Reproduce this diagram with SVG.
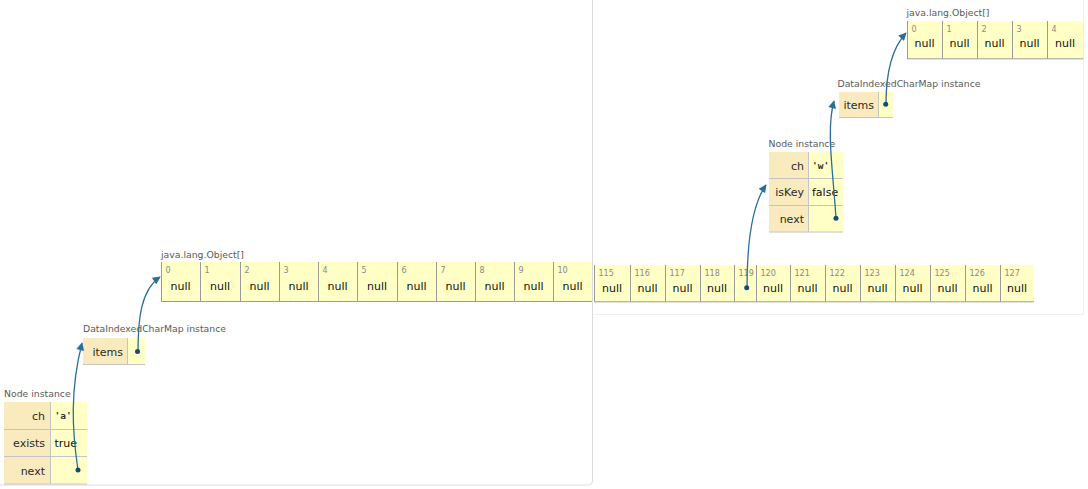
<svg xmlns="http://www.w3.org/2000/svg" width="1088" height="489" viewBox="0 0 1088 489">
<style>
text{font-family:"DejaVu Sans",Verdana,sans-serif}
.lbl{font-size:9.3px;fill:#5a5a5a}
.idx{font-size:8px;fill:#8a8a8a}
.nul{font-size:11px;fill:#111;text-anchor:middle}
.key{font-size:11px;fill:#2a2a2a;text-anchor:end}
.val{font-size:11px;fill:#111}
.chr{font-family:"DejaVu Sans Mono","Liberation Mono",monospace;font-size:9.5px;font-weight:bold;fill:#333}
.cell{fill:#ffffc6}
.kcell{fill:#faebbf}
.cb{stroke:#9a9a9a;stroke-width:1;fill:none}
.tb{stroke:#c4c4c4;stroke-width:1;fill:none}
.ptr{stroke:#2a6f99;stroke-width:1.3;fill:none;marker-end:url(#ah)}
.dot{fill:#0f4d72}
.panel{fill:none;stroke:#dcdcdc;stroke-width:1}
.panel2{fill:none;stroke:#eeeeee;stroke-width:1}
</style>
<defs>
<marker id="ah" viewBox="0 0 10 10" refX="9" refY="5" markerWidth="9" markerHeight="8" markerUnits="userSpaceOnUse" orient="auto">
<path d="M0,0 L10,5 L0,10 z" fill="#2a6f99"/>
</marker>
</defs>
<rect width="1088" height="489" fill="#ffffff"/>
<g id="panels">
<path class="panel" d="M592.5,0 V481 Q592.5,485 588.5,485 H0"/>
<path class="panel2" d="M593.5,314.5 H1083.5 V0"/>
</g>

<g id="arr-left">
<text class="lbl" x="161" y="258">java.lang.Object[]</text>
<rect class="cell" x="161" y="262" width="431" height="39"/>
<path class="cb" d="M161.5,262 V301 M200.5,262 V301 M240.5,262 V301 M279.5,262 V301 M318.5,262 V301 M357.5,262 V301 M397.5,262 V301 M436.5,262 V301 M475.5,262 V301 M514.5,262 V301 M553.5,262 V301 M161,301.5 H592"/>
<text class="idx" x="165.5" y="273">0</text>
<text class="idx" x="204.5" y="273">1</text>
<text class="idx" x="244.5" y="273">2</text>
<text class="idx" x="283.5" y="273">3</text>
<text class="idx" x="322.5" y="273">4</text>
<text class="idx" x="361.5" y="273">5</text>
<text class="idx" x="401.5" y="273">6</text>
<text class="idx" x="440.5" y="273">7</text>
<text class="idx" x="479.5" y="273">8</text>
<text class="idx" x="518.5" y="273">9</text>
<text class="idx" x="557.5" y="273">10</text>
<text class="nul" x="180.5" y="290">null</text>
<text class="nul" x="220" y="290">null</text>
<text class="nul" x="259.5" y="290">null</text>
<text class="nul" x="298.5" y="290">null</text>
<text class="nul" x="337.5" y="290">null</text>
<text class="nul" x="377" y="290">null</text>
<text class="nul" x="416.5" y="290">null</text>
<text class="nul" x="455.5" y="290">null</text>
<text class="nul" x="494.5" y="290">null</text>
<text class="nul" x="533.5" y="290">null</text>
<text class="nul" x="572.5" y="290">null</text>
</g>

<g id="dicm-left">
<text class="lbl" x="83" y="332">DataIndexedCharMap instance</text>
<rect class="kcell" x="83" y="338" width="44" height="26"/>
<rect class="cell" x="127" y="338" width="18" height="26"/>
<path class="tb" d="M127.5,338 V364 M83,364.5 H145"/>
<text class="key" x="123" y="355.5">items</text>
</g>

<g id="node-a">
<text class="lbl" x="4" y="396.5">Node instance</text>
<rect class="kcell" x="4" y="402" width="46" height="82"/>
<rect class="cell" x="50" y="402" width="37" height="82"/>
<path class="tb" d="M50.5,402 V484 M4,429.5 H87 M4,456.5 H87 M4,484 H87"/>
<text class="key" x="45" y="419.5">ch</text>
<text class="key" x="45" y="447">exists</text>
<text class="key" x="45" y="474.5">next</text>
<text class="chr" x="54.5" y="419">'a'</text>
<text class="val" x="54.5" y="447">true</text>
</g>

<g id="arr-right">
<rect class="cell" x="594" y="265" width="440" height="36.5"/>
<path class="cb" d="M594.5,265 V301.5 M630.5,265 V301.5 M665.5,265 V301.5 M700.5,265 V301.5 M734.5,265 V301.5 M756.5,265 V301.5 M790.5,265 V301.5 M825.5,265 V301.5 M860.5,265 V301.5 M895.5,265 V301.5 M930.5,265 V301.5 M965.5,265 V301.5 M1000.5,265 V301.5 M594,301.8 H1034"/>
<text class="idx" x="598.5" y="276">115</text>
<text class="idx" x="634.5" y="276">116</text>
<text class="idx" x="669.5" y="276">117</text>
<text class="idx" x="704.5" y="276">118</text>
<text class="idx" x="738.5" y="276">119</text>
<text class="idx" x="760.5" y="276">120</text>
<text class="idx" x="794.5" y="276">121</text>
<text class="idx" x="829.5" y="276">122</text>
<text class="idx" x="864.5" y="276">123</text>
<text class="idx" x="899.5" y="276">124</text>
<text class="idx" x="934.5" y="276">125</text>
<text class="idx" x="969.5" y="276">126</text>
<text class="idx" x="1004.5" y="276">127</text>
<text class="nul" x="612" y="292">null</text>
<text class="nul" x="647.5" y="292">null</text>
<text class="nul" x="682.5" y="292">null</text>
<text class="nul" x="717" y="292">null</text>
<text class="nul" x="773" y="292">null</text>
<text class="nul" x="807.5" y="292">null</text>
<text class="nul" x="842.5" y="292">null</text>
<text class="nul" x="877.5" y="292">null</text>
<text class="nul" x="912.5" y="292">null</text>
<text class="nul" x="947.5" y="292">null</text>
<text class="nul" x="982.5" y="292">null</text>
<text class="nul" x="1017" y="292">null</text>
</g>

<g id="node-w">
<text class="lbl" x="768.5" y="146.5">Node instance</text>
<rect class="kcell" x="769" y="152" width="39" height="80"/>
<rect class="cell" x="808" y="152" width="35" height="80"/>
<path class="tb" d="M808.5,152 V232 M769,178.5 H843 M769,205.5 H843 M769,232 H843"/>
<text class="key" x="804" y="169.5">ch</text>
<text class="key" x="804" y="196">isKey</text>
<text class="key" x="804" y="222.5">next</text>
<text class="chr" x="812" y="169">'w'</text>
<text class="val" x="812" y="196">false</text>
</g>

<g id="dicm-right">
<text class="lbl" x="837.5" y="86.5">DataIndexedCharMap instance</text>
<rect class="kcell" x="839" y="92" width="39" height="25.5"/>
<rect class="cell" x="878" y="92" width="15" height="25.5"/>
<path class="tb" d="M878.5,92 V117.5 M839,117.5 H893"/>
<text class="key" x="874" y="108.5">items</text>
</g>

<g id="arr-top">
<text class="lbl" x="906.5" y="16">java.lang.Object[]</text>
<rect class="cell" x="907" y="21" width="176" height="37.5"/>
<path class="cb" d="M907.5,21 V58.5 M942.5,21 V58.5 M977.5,21 V58.5 M1012.5,21 V58.5 M1047.5,21 V58.5 M907,58.8 H1083"/>
<text class="idx" x="911.5" y="32">0</text>
<text class="idx" x="946.5" y="32">1</text>
<text class="idx" x="981.5" y="32">2</text>
<text class="idx" x="1016.5" y="32">3</text>
<text class="idx" x="1051.5" y="32">4</text>
<text class="nul" x="924.5" y="47">null</text>
<text class="nul" x="959.5" y="47">null</text>
<text class="nul" x="994.5" y="47">null</text>
<text class="nul" x="1029.5" y="47">null</text>
<text class="nul" x="1065" y="47">null</text>
</g>

<g id="connectors">
<path class="ptr" d="M78,470 C72,430 70,390 82,343"/>
<path class="ptr" d="M138,352 C138,318 141,290 160,277"/>
<path class="ptr" d="M747,288 C747,240 752,205 766,185"/>
<path class="ptr" d="M836,218 C833,170 826,130 834,101"/>
<path class="ptr" d="M886,104 C886,75 892,48 906,33"/>
<circle class="dot" cx="78" cy="470" r="2.5"/>
<circle class="dot" cx="137.5" cy="351.5" r="2.5"/>
<circle class="dot" cx="746.7" cy="287.7" r="2.5"/>
<circle class="dot" cx="836" cy="218.3" r="2.5"/>
<circle class="dot" cx="885.7" cy="104.3" r="2.5"/>
</g>
</svg>
